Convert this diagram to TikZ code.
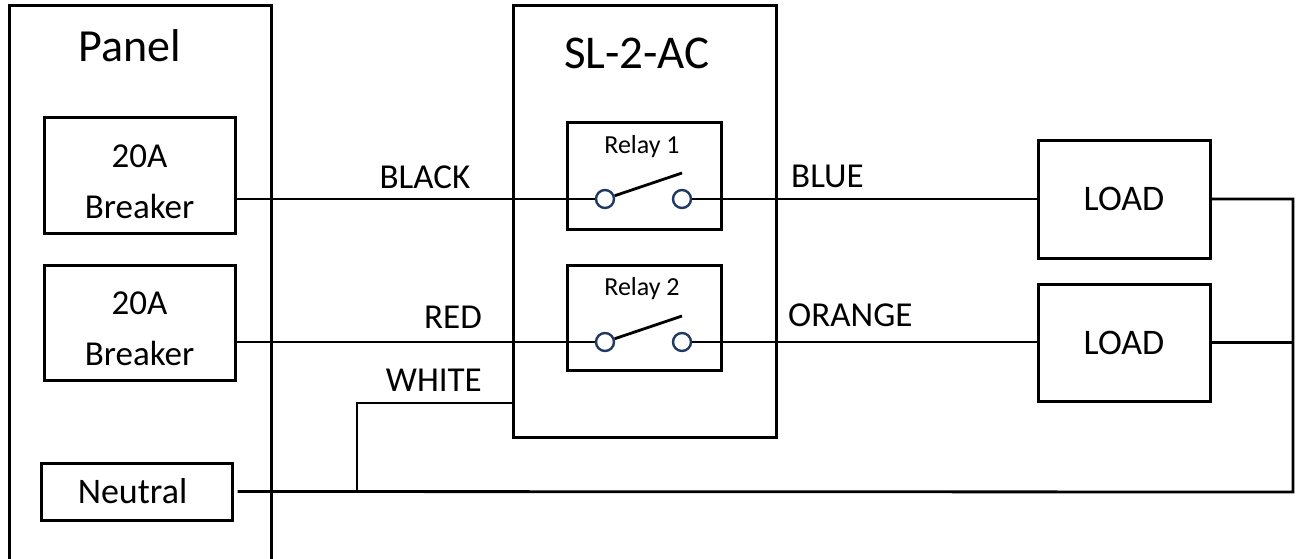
\documentclass[tikz,border=0pt]{standalone}
\usepackage{fontspec}
\setmainfont{Carlito}
\usepackage{tikz}
\definecolor{contactblue}{HTML}{1F3864}

\begin{document}
\begin{tikzpicture}[x=1pt, y=-1pt,
	box/.style={draw, line width=3pt, inner sep=0pt, align=center},
	wire/.style={line width=2.8pt},
	contact/.style={circle, draw=contactblue, fill=white, line width=2.4pt, minimum size=18pt, inner sep=0pt},
	lbl/.style={font=\fontsize{35}{42}\selectfont, inner sep=0pt}]

	% one unit is one pixel of the drawing
	\useasboundingbox (0,0) rectangle (1298,558);
	\clip (0,0) rectangle (1298,558);

	% panel side
	\node[box, minimum width=262pt, minimum height=580pt] (panel) at (140,295) {};
	\node[anchor=base, inner sep=0pt, font=\fontsize{46}{55}\selectfont] (paneltitle) at (130,61) {Panel};

	\node[box, minimum width=191pt, minimum height=116pt, font=\fontsize{35}{51}\selectfont] (brk1) at (139.5,175) {\rule{0pt}{36pt}20A\\Breaker};
	\node[box, minimum width=191pt, minimum height=115pt, font=\fontsize{35}{51}\selectfont] (brk2) at (139.5,322.5) {\rule{0pt}{36pt}20A\\Breaker};
	\node[box, minimum width=191pt, minimum height=57pt, font=\fontsize{36}{43}\selectfont] (neut) at (136.5,491.5) {Neutral\hspace*{8pt}};

	% the SL-2-AC with its two relays
	\node[box, minimum width=263pt, minimum height=432pt] (sl) at (644.5,221) {};
	\node[anchor=base, inner sep=0pt, font=\fontsize{47}{56}\selectfont] (sltitle) at (637,68) {SL-2-AC};

	\node[box, minimum width=154pt, minimum height=107pt] (rly1) at (644,175.5) {};
	\node[box, minimum width=154pt, minimum height=105pt] (rly2) at (644,317.5) {};
	\node[anchor=base, inner sep=0pt, font=\fontsize{26}{31}\selectfont] (rly1title) at (642,153) {Relay 1};
	\node[anchor=base, inner sep=0pt, font=\fontsize{26}{31}\selectfont] (rly2title) at (642,295) {Relay 2};

	\node[contact] (c1a) at (605,199) {};
	\node[contact] (c1b) at (682,199) {};
	\node[contact] (c2a) at (605,342) {};
	\node[contact] (c2b) at (682,342) {};
	\coordinate (blade1) at (682,173);
	\coordinate (blade2) at (682,316);

	% loads
	\node[box, minimum width=172pt, minimum height=118pt, font=\fontsize{36}{43}\selectfont] (load1) at (1124,199) {LOAD};
	\node[box, minimum width=172pt, minimum height=117pt, font=\fontsize{36}{43}\selectfont] (load2) at (1124,342.5) {LOAD};

	\coordinate (nbus) at (1293,492);
	\coordinate (wtap) at (357,492);
	\coordinate (wend) at (513,403);

	% wiring
	\draw[wire] (brk1.east |- c1a) -- (c1a);
	\draw[wire] (brk2.east |- c2a) -- (c2a);
	\draw[wire] (c1a) -- (blade1);
	\draw[wire] (c2a) -- (blade2);
	\draw[wire] (c1b) -- (c1b -| load1.west);
	\draw[wire] (c2b) -- (c2b -| load2.west);
	\draw[wire] ([xshift=4pt]neut.east) -- (nbus) |- (load1.east);
	\draw[wire] (load2.east) -- (load2.east -| nbus);
	\draw[wire] (wtap) |- (wend);

	\node[lbl, anchor=base] (blacklbl) at (425,188) {BLACK};
	\node[lbl, anchor=base east] (redlbl) at (482,328) {RED};
	\node[lbl, anchor=base east] (whitelbl) at (482,391) {WHITE};
	\node[lbl, anchor=base west] (bluelbl) at (791,187) {BLUE};
	\node[lbl, anchor=base west] (orangelbl) at (788,326) {ORANGE};

\end{tikzpicture}
\end{document}
